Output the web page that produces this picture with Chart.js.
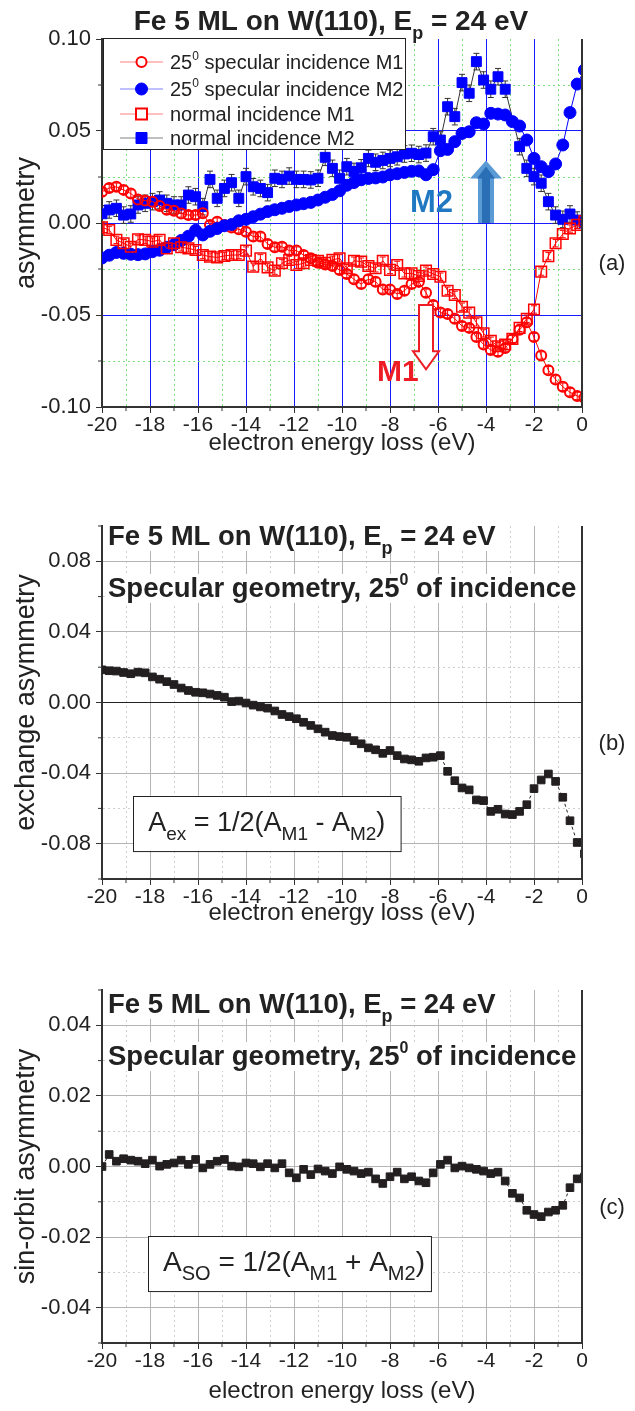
<!DOCTYPE html>
<html>
<head>
<meta charset="utf-8">
<script src="https://cdn.jsdelivr.net/npm/chart.js@4.4.0/dist/chart.umd.min.js"></script>
<style>
  html, body { margin: 0; padding: 0; background: #fff; }
  #page { position: relative; width: 635px; height: 1411px; }
  .panel { position: absolute; left: 0; width: 635px; }
</style>
</head>
<body>
<div id="page">
  <div class="panel" style="top:0"><canvas id="chartA" width="635" height="460"></canvas></div>
  <div class="panel" style="top:470px"><canvas id="chartB" width="635" height="460"></canvas></div>
  <div class="panel" style="top:940px"><canvas id="chartC" width="635" height="471"></canvas></div>
</div>
<script>
const FONT = '"Liberation Sans", Arial, Helvetica, sans-serif';

// electron energy loss (eV), shared by every series
const ENERGY = [-20.0, -19.7, -19.4, -19.1, -18.8, -18.5, -18.2, -17.9, -17.6, -17.3,
  -17.0, -16.7, -16.4, -16.1, -15.8, -15.5, -15.2, -14.9, -14.6, -14.3,
  -14.0, -13.7, -13.4, -13.1, -12.8, -12.5, -12.2, -11.9, -11.6, -11.3,
  -11.0, -10.7, -10.4, -10.1, -9.8, -9.5, -9.2, -8.9, -8.6, -8.3,
  -8.0, -7.7, -7.4, -7.1, -6.8, -6.5, -6.2, -5.9, -5.6, -5.3,
  -5.0, -4.7, -4.4, -4.1, -3.8, -3.5, -3.2, -2.9, -2.6, -2.3,
  -2.0, -1.7, -1.4, -1.1, -0.8, -0.5, -0.2, 0.1];

// panel (a): asymmetries
const M1_SPEC = [0.017, 0.019, 0.0197, 0.018, 0.016, 0.0128, 0.0122, 0.0116, 0.0092, 0.0072,
  0.0067, 0.0052, 0.0043, 0.0043, 0.0053, -0.0011, 0.0007, -0.0011, -0.0024, -0.0034,
  -0.0047, -0.0074, -0.0074, -0.0114, -0.0132, -0.0129, -0.0150, -0.0150, -0.0174, -0.0192,
  -0.0216, -0.0225, -0.0234, -0.0255, -0.0277, -0.0306, -0.0332, -0.0306, -0.0319, -0.0361,
  -0.0361, -0.0386, -0.0368, -0.0332, -0.0320, -0.0379, -0.0446, -0.0487, -0.0495, -0.0520,
  -0.0560, -0.0570, -0.0620, -0.0660, -0.0690, -0.0700, -0.0680, -0.0630, -0.0580, -0.0540,
  -0.0620, -0.0720, -0.0800, -0.0850, -0.0890, -0.0920, -0.0940, -0.0950];

const M2_SPEC = [-0.019, -0.0175, -0.016, -0.0165, -0.017, -0.0172, -0.0168, -0.0156, -0.0148, -0.0132,
  -0.0118, -0.0095, -0.0072, -0.0040, -0.0065, -0.0045, -0.0030, -0.0015, -0.0008, 0.0012,
  0.0020, 0.0034, 0.0048, 0.0062, 0.0072, 0.0080, 0.0090, 0.0098, 0.0105, 0.0112,
  0.0125, 0.0140, 0.0155, 0.0175, 0.0205, 0.0220, 0.0235, 0.0242, 0.0245, 0.0250,
  0.0262, 0.0268, 0.0275, 0.0281, 0.0283, 0.0262, 0.0290, 0.0393, 0.0400, 0.0442,
  0.0487, 0.0496, 0.0545, 0.0538, 0.0596, 0.0592, 0.0587, 0.0551, 0.0527, 0.0451,
  0.0351, 0.0306, 0.0279, 0.0321, 0.0424, 0.0600, 0.0755, 0.0832];

const M1_NORM = [-0.0024, -0.0038, -0.0092, -0.0110, -0.0129, -0.0089, -0.0092, -0.0101, -0.0092, -0.0138,
  -0.0110, -0.0132, -0.0138, -0.0147, -0.0174, -0.0183, -0.0187, -0.0179, -0.0174, -0.0174,
  -0.0150, -0.0237, -0.0192, -0.0241, -0.0259, -0.0219, -0.0201, -0.0228, -0.0219, -0.0201,
  -0.0205, -0.0216, -0.0200, -0.0192, -0.0246, -0.0205, -0.0210, -0.0234, -0.0246, -0.0205,
  -0.0255, -0.0228, -0.0274, -0.0274, -0.0288, -0.0259, -0.0277, -0.0292, -0.0368, -0.0391,
  -0.0455, -0.0487, -0.054, -0.060, -0.064, -0.067, -0.066, -0.063, -0.057, -0.052,
  -0.047, -0.0264, -0.018, -0.011, -0.006, -0.003, -0.001, 0.001];

const M2_NORM = [0.005, 0.0071, 0.008, 0.0043, 0.0049, 0.0098, 0.0107, 0.0116, 0.0125, 0.0107,
  0.0098, 0.0098, 0.0152, 0.0143, 0.0089, 0.0237, 0.0134, 0.0188, 0.0219, 0.0134,
  0.0252, 0.0197, 0.0188, 0.0165, 0.0243, 0.0237, 0.0255, 0.0237, 0.0237, 0.0234,
  0.0243, 0.0357, 0.0297, 0.0243, 0.0306, 0.0280, 0.0300, 0.0351, 0.0330, 0.0340,
  0.0351, 0.0360, 0.0375, 0.0379, 0.0372, 0.0380, 0.0469, 0.0451, 0.0632, 0.0578,
  0.0763, 0.0705, 0.0877, 0.0777, 0.0727, 0.0795, 0.0727, null, 0.0415, 0.0297,
  0.0252, 0.0216, 0.0116, 0.0043, 0.0020, 0.0049, 0.0016, 0.0000];

// error bar half-heights for panel (a)
const ERR_M1_SPEC = 0.002;
const ERR_M1_NORM = 0.002;
const ERR_M2_NORM = 0.0045;

// panel (b): exchange asymmetry
const EXCHANGE = [0.0185, 0.018, 0.0178, 0.017, 0.0163, 0.0172, 0.0168, 0.0145, 0.0132, 0.0118,
  0.0102, 0.0082, 0.0068, 0.0058, 0.0055, 0.0048, 0.0040, 0.0030, 0.0005, 0.0008,
  -0.0003, -0.0015, -0.0025, -0.0032, -0.0048, -0.0068, -0.0080, -0.0092, -0.0112, -0.0130,
  -0.0149, -0.0168, -0.0187, -0.0193, -0.0197, -0.0216, -0.0234, -0.0257, -0.0268, -0.0288,
  -0.0272, -0.0301, -0.0320, -0.0325, -0.0333, -0.0314, -0.0310, -0.0301, -0.0390, -0.0443,
  -0.0484, -0.0495, -0.0552, -0.0556, -0.0617, -0.0605, -0.0632, -0.0635, -0.0617, -0.0579,
  -0.0488, -0.0439, -0.0405, -0.0447, -0.0537, -0.0670, -0.0793, -0.0857];

// panel (c): spin-orbit asymmetry
const SPIN_ORBIT = [0.000, 0.0034, 0.0015, 0.0022, 0.0018, 0.0015, 0.0008, 0.0018, 0.0001, 0.0006,
  0.0010, 0.0018, 0.0006, 0.0020, -0.0004, 0.0006, 0.0015, 0.0020, 0.0001, -0.0001,
  0.0010, 0.0008, -0.0001, 0.0008, -0.0004, 0.0008, -0.0018, -0.0032, -0.0008, -0.0023,
  -0.0007, -0.0013, -0.0020, -0.0001, -0.0008, -0.0013, -0.0020, -0.0016, -0.0035, -0.0048,
  -0.0029, -0.0016, -0.0035, -0.0029, -0.0041, -0.0046, -0.0018, 0.0006, 0.0018, -0.0004,
  0.0001, -0.0004, -0.0008, -0.0013, -0.0020, -0.0016, -0.0041, -0.0076, -0.0089, -0.0124,
  -0.0136, -0.0142, -0.0129, -0.0124, -0.0110, -0.0060, -0.0035, -0.0030];

// ticks
const X_TICKS = [-20, -19, -18, -17, -16, -15, -14, -13, -12, -11, -10, -9, -8, -7, -6, -5, -4, -3, -2, -1, 0];
const Y_TICKS_A = [-0.1, -0.075, -0.05, -0.025, 0, 0.025, 0.05, 0.075, 0.1];
const Y_MAJOR_A = [-0.1, -0.05, 0, 0.05, 0.1];
const Y_TICKS_B = [-0.1, -0.08, -0.06, -0.04, -0.02, 0, 0.02, 0.04, 0.06, 0.08, 0.1];
const Y_MAJOR_B = [-0.08, -0.04, 0, 0.04, 0.08];
const Y_TICKS_C = [-0.05, -0.04, -0.03, -0.02, -0.01, 0, 0.01, 0.02, 0.03, 0.04, 0.05];
const Y_MAJOR_C = [-0.04, -0.02, 0, 0.02, 0.04];

const LEGEND_A = ['specular incidence M1', 'specular incidence M2', 'normal incidence M1', 'normal incidence M2'];

function fnt(size, bold) {
    return (bold ? 'bold ' : '') + size + 'px ' + FONT;
}

function toPoints(values) {
    return ENERGY.map((e, i) => ({ x: e, y: values[i] }));
}

function isMajor(v, majors) {
    return majors.some(m => Math.abs(m - v) < 1e-9);
}

// draw text made of pieces (sub/superscripts), returns its width
function richText(ctx, parts, x, y, align) {
    let w = 0;
    parts.forEach(p => { ctx.font = p.font; w += ctx.measureText(p.text).width; });
    let cx = align === 'center' ? x - w / 2 : x;
    parts.forEach(p => {
        ctx.font = p.font;
        ctx.fillText(p.text, cx, y + (p.dy || 0));
        cx += ctx.measureText(p.text).width;
    });
    return w;
}

function titleParts(size) {
    return [
        { text: 'Fe 5 ML on W(110), E', font: fnt(size, true) },
        { text: 'p', font: fnt(Math.round(size * 0.65), true), dy: size * 0.32 },
        { text: ' = 24 eV', font: fnt(size, true) }
    ];
}

function specParts(size) {
    return [
        { text: 'Specular geometry, 25', font: fnt(size, true) },
        { text: '0', font: fnt(Math.round(size * 0.58), true), dy: -size * 0.45 },
        { text: ' of incidence', font: fnt(size, true) }
    ];
}

function xScale(major, minor, height) {
    return {
        type: 'linear', min: -20, max: 0,
        afterBuildTicks: s => { s.ticks = X_TICKS.map(v => ({ value: v })); },
        afterFit: s => { s.height = height; },
        ticks: {
            autoSkip: false, maxRotation: 0, padding: 0, color: '#222',
            font: { family: FONT, size: 21 },
            callback: v => (v % 2 === 0 ? String(v) : '')
        },
        grid: {
            color: c => (c.tick && c.tick.value % 2 !== 0) ? minor : major,
            lineWidth: 1, tickLength: 6,
            tickColor: c => (c.tick && c.tick.value % 2 !== 0) ? 'rgba(0,0,0,0)' : '#333'
        },
        border: { color: '#333', width: 2, dash: c => (c.tick && c.tick.value % 2 !== 0) ? [2, 3] : [] }
    };
}

function yScale(ticks, majors, major, minor, zeroColor) {
    const min = ticks[0], max = ticks[ticks.length - 1];
    return {
        type: 'linear', min: min, max: max,
        afterBuildTicks: s => { s.ticks = ticks.map(v => ({ value: v })); },
        afterFit: s => { s.width = 102; },
        ticks: {
            autoSkip: false, padding: 5, color: '#222',
            font: { family: FONT, size: 22 },
            callback: v => (isMajor(v, majors) ? v.toFixed(2) : '')
        },
        grid: {
            color: c => {
                if (!c.tick) return major;
                const v = c.tick.value;
                if (Math.abs(v - max) < 1e-9) return 'rgba(0,0,0,0)';
                if (Math.abs(v) < 1e-9 && zeroColor) return zeroColor;
                return isMajor(v, majors) ? major : minor;
            },
            lineWidth: 1, tickLength: 6,
            tickColor: c => (c.tick && isMajor(c.tick.value, majors)) ? '#333' : 'rgba(0,0,0,0)'
        },
        border: { color: '#333', width: 2, dash: c => (c.tick && !isMajor(c.tick.value, majors)) ? [2, 3] : [] }
    };
}

// frame, minor ticks, axis titles and panel tag shared by all three panels
function decorPlugin(cfg) {
    return {
        id: 'decor',
        beforeDatasetsDraw(chart) {
            if (cfg.before) cfg.before(chart);
        },
        afterDraw(chart) {
            const { ctx, chartArea: a, scales: { x, y } } = chart;
            ctx.save();
            ctx.strokeStyle = '#333';
            ctx.lineWidth = 2;
            ctx.beginPath();
            ctx.moveTo(a.right, a.top);
            ctx.lineTo(a.right, a.bottom + 1);
            ctx.stroke();

            // minor tick marks
            ctx.lineWidth = 1;
            X_TICKS.filter(v => v % 2 !== 0).forEach(v => {
                const px = x.getPixelForValue(v);
                ctx.beginPath(); ctx.moveTo(px, a.bottom); ctx.lineTo(px, a.bottom + 4); ctx.stroke();
            });
            cfg.yTicks.filter(v => !isMajor(v, cfg.yMajor)).forEach(v => {
                const py = y.getPixelForValue(v);
                ctx.beginPath(); ctx.moveTo(a.left, py); ctx.lineTo(a.left - 4, py); ctx.stroke();
            });

            ctx.fillStyle = '#222';
            ctx.textBaseline = 'alphabetic';
            ctx.textAlign = 'center';
            ctx.font = fnt(24);
            ctx.fillText('electron energy loss (eV)', (a.left + a.right) / 2, a.bottom + cfg.xTitleOffset);

            ctx.save();
            ctx.translate(34, (a.top + a.bottom) / 2);
            ctx.rotate(-Math.PI / 2);
            ctx.font = fnt(27);
            ctx.fillText(cfg.yTitle, 0, 0);
            ctx.restore();

            ctx.font = fnt(22);
            ctx.fillText(cfg.tag, 612, (a.top + a.bottom) / 2 + 47);
            ctx.textAlign = 'left';
            cfg.extra(chart, ctx, a, x, y);
            ctx.restore();
        }
    };
}

function drawErrorBars(chart) {
    const { ctx, chartArea: a, scales: { x, y } } = chart;
    const groups = [
        [M2_NORM, ERR_M2_NORM, '#333'],
        [M1_NORM, ERR_M1_NORM, '#ff0000'],
        [M1_SPEC, ERR_M1_SPEC, '#ff0000']
    ];
    ctx.save();
    ctx.beginPath();
    ctx.rect(a.left, a.top, a.right - a.left, a.bottom - a.top);
    ctx.clip();
    ctx.lineWidth = 1;
    groups.forEach(([vals, err, color]) => {
        ctx.strokeStyle = color;
        vals.forEach((v, i) => {
            if (v === null) return;
            const px = x.getPixelForValue(ENERGY[i]);
            const top = y.getPixelForValue(v + err);
            const bot = y.getPixelForValue(v - err);
            ctx.beginPath();
            ctx.moveTo(px, top); ctx.lineTo(px, bot);
            ctx.moveTo(px - 3, top); ctx.lineTo(px + 3, top);
            ctx.moveTo(px - 3, bot); ctx.lineTo(px + 3, bot);
            ctx.stroke();
        });
    });
    ctx.restore();
}

function drawLegendA(ctx, a) {
    const left = a.left + 1, top = a.top - 1, right = 405, bottom = 149;
    ctx.fillStyle = '#fff';
    ctx.fillRect(left, top, right - left, bottom - top);
    ctx.strokeStyle = '#222';
    ctx.lineWidth = 1;
    ctx.strokeRect(left + 0.5, top + 0.5, right - left, bottom - top);

    const rows = [
        { y: 62, line: '#ff8080', color: '#ff0000', shape: 'circle', fill: false, sup: true },
        { y: 89, line: '#8080ff', color: '#0000ff', shape: 'circle', fill: true, sup: true },
        { y: 114, line: '#ff8080', color: '#ff0000', shape: 'square', fill: false, sup: false },
        { y: 138, line: '#808080', color: '#0000ff', shape: 'square', fill: true, sup: false }
    ];
    rows.forEach((r, i) => {
        ctx.strokeStyle = r.line;
        ctx.lineWidth = 1;
        ctx.beginPath(); ctx.moveTo(120, r.y); ctx.lineTo(163, r.y); ctx.stroke();
        ctx.lineWidth = r.fill ? 1 : 2;
        ctx.strokeStyle = r.color;
        ctx.fillStyle = r.fill ? r.color : '#fff';
        ctx.beginPath();
        if (r.shape === 'circle') ctx.arc(141.5, r.y, r.fill ? 6 : 5, 0, Math.PI * 2);
        else ctx.rect(136, r.y - 5.5, 11, 11);
        ctx.fill();
        ctx.stroke();
        ctx.fillStyle = '#222';
        const parts = r.sup
            ? [{ text: '25', font: fnt(20) }, { text: '0', font: fnt(12), dy: -9 }, { text: ' ' + LEGEND_A[i], font: fnt(20) }]
            : [{ text: LEGEND_A[i], font: fnt(20) }];
        richText(ctx, parts, 170, r.y + 7, 'left');
    });
}

function drawArrowUp(ctx, cx, tipY, baseY, headW, headH, shaftW) {
    ctx.beginPath();
    ctx.moveTo(cx, tipY);
    ctx.lineTo(cx + headW, tipY + headH);
    ctx.lineTo(cx + shaftW, tipY + headH);
    ctx.lineTo(cx + shaftW, baseY);
    ctx.lineTo(cx - shaftW, baseY);
    ctx.lineTo(cx - shaftW, tipY + headH);
    ctx.lineTo(cx - headW, tipY + headH);
    ctx.closePath();
}

function drawArrowDown(ctx, cx, topY, tipY, headW, headH, shaftW) {
    ctx.beginPath();
    ctx.moveTo(cx - shaftW, topY);
    ctx.lineTo(cx + shaftW, topY);
    ctx.lineTo(cx + shaftW, tipY - headH);
    ctx.lineTo(cx + headW, tipY - headH);
    ctx.lineTo(cx, tipY);
    ctx.lineTo(cx - headW, tipY - headH);
    ctx.lineTo(cx - shaftW, tipY - headH);
    ctx.closePath();
}

function drawFormulaBox(ctx, x, y, x0, x1, y0, y1, sub, op, size) {
    const left = x.getPixelForValue(x0), right = x.getPixelForValue(x1);
    const top = y.getPixelForValue(y0), bottom = y.getPixelForValue(y1);
    ctx.fillStyle = '#fff';
    ctx.fillRect(left, top, right - left, bottom - top);
    ctx.strokeStyle = '#222';
    ctx.lineWidth = 1;
    ctx.strokeRect(Math.round(left) + 0.5, Math.round(top) + 0.5, right - left, bottom - top);
    ctx.fillStyle = '#222';
    const small = Math.round(size * 0.7);
    richText(ctx, [
        { text: 'A', font: fnt(size) },
        { text: sub, font: fnt(small), dy: 9 },
        { text: ' = 1/2(A', font: fnt(size) },
        { text: 'M1', font: fnt(small), dy: 9 },
        { text: ' ' + op + ' A', font: fnt(size) },
        { text: 'M2', font: fnt(small), dy: 9 },
        { text: ')', font: fnt(size) }
    ], left + 15, top + 35, 'left');
}

function drawPanelHeader(ctx, a, row1, row2) {
    [[titleParts(27.5), row1], [specParts(27.5), row2]].forEach(([parts, off]) => {
        let w = 0;
        parts.forEach(p => { ctx.font = p.font; w += ctx.measureText(p.text).width; });
        ctx.fillStyle = '#fff';
        ctx.fillRect(a.left + 4, a.top + off - 23, w + 6, 29);
        ctx.fillStyle = '#222';
        richText(ctx, parts, a.left + 6, a.top + off, 'left');
    });
}

// panel (a)
new Chart(document.getElementById('chartA'), {
    type: 'line',
    data: {
        datasets: [
            {
                data: toPoints(M1_NORM), order: 1,
                borderColor: '#ff0000', borderWidth: 1,
                pointStyle: 'rect', pointRadius: 7.5, pointBorderWidth: 1.5,
                pointBorderColor: '#ff0000', pointBackgroundColor: 'rgba(255,255,255,0)'
            },
            {
                data: toPoints(M2_SPEC), order: 2,
                borderColor: '#0000ff', borderWidth: 1,
                pointStyle: 'circle', pointRadius: 6, pointBorderWidth: 1,
                pointBorderColor: '#0000ff', pointBackgroundColor: '#0000ff'
            },
            {
                data: toPoints(M1_SPEC), order: 3,
                borderColor: '#ff0000', borderWidth: 1,
                pointStyle: 'circle', pointRadius: 5, pointBorderWidth: 2,
                pointBorderColor: '#ff0000', pointBackgroundColor: 'rgba(255,255,255,0)'
            },
            {
                data: toPoints(M2_NORM), order: 4, spanGaps: true,
                borderColor: '#333', borderWidth: 1,
                pointStyle: 'rect', pointRadius: 7, pointBorderWidth: 1,
                pointBorderColor: '#0000ff', pointBackgroundColor: '#0000ff'
            }
        ]
    },
    options: {
        responsive: false,
        animation: false,
        clip: 0,
        layout: { padding: { top: 39, right: 53, left: 0, bottom: 0 } },
        plugins: { legend: { display: false }, tooltip: { enabled: false } },
        scales: {
            x: xScale('#1a1aff', '#7be07b', 53),
            y: yScale(Y_TICKS_A, Y_MAJOR_A, '#1a1aff', '#7be07b', null)
        }
    },
    plugins: [decorPlugin({
        tag: '(a)', yTitle: 'asymmetry', xTitleOffset: 43,
        yTicks: Y_TICKS_A, yMajor: Y_MAJOR_A,
        before: drawErrorBars,
        extra: (chart, ctx, a, x, y) => {
            ctx.fillStyle = '#222';
            richText(ctx, titleParts(28), 331, 30, 'center');
            drawLegendA(ctx, a);

            // M2 arrow and label
            const ax = x.getPixelForValue(-4.0);
            const tip = y.getPixelForValue(0.034), base = y.getPixelForValue(0.0);
            ctx.fillStyle = '#5b9bd5';
            drawArrowUp(ctx, ax, tip, base, 16, 18, 8);
            ctx.fill();
            ctx.fillStyle = '#2a6fb5';
            drawArrowUp(ctx, ax, tip + 6, base, 9, 12, 4);
            ctx.fill();
            ctx.fillStyle = '#1f78c1';
            ctx.font = fnt(31, true);
            ctx.fillText('M2', 410, 212);

            // M1 arrow and label
            const bx = x.getPixelForValue(-6.5);
            ctx.fillStyle = '#fff';
            ctx.strokeStyle = '#ee1c25';
            ctx.lineWidth = 2;
            drawArrowDown(ctx, bx, y.getPixelForValue(-0.0445), y.getPixelForValue(-0.0795), 13, 18, 7);
            ctx.fill();
            ctx.stroke();
            ctx.fillStyle = '#ee1c25';
            ctx.font = fnt(30, true);
            ctx.fillText('M1', 377, 381);
        }
    })]
});

const squareStyle = {
    borderColor: '#231f20', borderWidth: 1, borderDash: [3, 3],
    pointStyle: 'rect', pointRadius: 5.4, pointBorderWidth: 1,
    pointBorderColor: '#231f20', pointBackgroundColor: '#231f20'
};

// panel (b)
new Chart(document.getElementById('chartB'), {
    type: 'line',
    data: { datasets: [Object.assign({ data: toPoints(EXCHANGE) }, squareStyle)] },
    options: {
        responsive: false,
        animation: false,
        clip: 0,
        layout: { padding: { top: 56, right: 53, left: 0, bottom: 0 } },
        plugins: { legend: { display: false }, tooltip: { enabled: false } },
        scales: {
            x: xScale('#b4b4b4', '#cfcfcf', 51),
            y: yScale(Y_TICKS_B, Y_MAJOR_B, '#b4b4b4', '#cfcfcf', '#222')
        }
    },
    plugins: [decorPlugin({
        tag: '(b)', yTitle: 'exchange asymmetry', xTitleOffset: 41,
        yTicks: Y_TICKS_B, yMajor: Y_MAJOR_B,
        extra: (chart, ctx, a, x, y) => {
            drawPanelHeader(ctx, a, 19, 71);
            drawFormulaBox(ctx, x, y, -18.7, -7.55, -0.0528, -0.084, 'ex', '-', 27);
        }
    })]
});

// panel (c)
new Chart(document.getElementById('chartC'), {
    type: 'line',
    data: { datasets: [Object.assign({ data: toPoints(SPIN_ORBIT) }, squareStyle)] },
    options: {
        responsive: false,
        animation: false,
        clip: 0,
        layout: { padding: { top: 50, right: 53, left: 0, bottom: 0 } },
        plugins: { legend: { display: false }, tooltip: { enabled: false } },
        scales: {
            x: xScale('#b4b4b4', '#cfcfcf', 68),
            y: yScale(Y_TICKS_C, Y_MAJOR_C, '#b4b4b4', '#cfcfcf', null)
        }
    },
    plugins: [decorPlugin({
        tag: '(c)', yTitle: 'sin-orbit asymmetry', xTitleOffset: 55,
        yTicks: Y_TICKS_C, yMajor: Y_MAJOR_C,
        extra: (chart, ctx, a, x, y) => {
            drawPanelHeader(ctx, a, 23, 75);
            drawFormulaBox(ctx, x, y, -18.08, -6.29, -0.0198, -0.0354, 'SO', '+', 28);
        }
    })]
});
</script>
</body>
</html>
